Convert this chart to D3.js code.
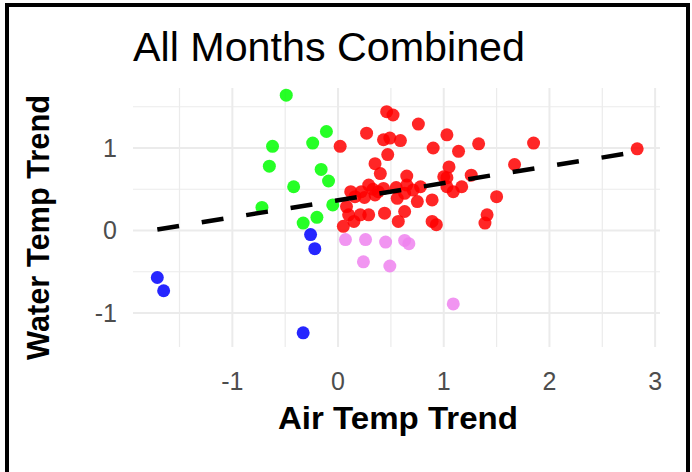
<!DOCTYPE html>
<html>
<head>
<meta charset="utf-8">
<script src="https://cdn.jsdelivr.net/npm/d3@7"></script>
<style>
  body { margin: 0; background: #fff; }
  text { font-family: "Liberation Sans", Arial, sans-serif; }
</style>
</head>
<body>
<div id="chart"></div>
<script>
// values: [air trend, water trend]
const redPoints = [
  [0.46, 1.44], [0.52, 1.40], [0.76, 1.29], [1.03, 1.16], [0.27, 1.18], [0.02, 1.02],
  [0.43, 1.10], [0.49, 1.12], [0.59, 1.09], [0.47, 0.92], [0.90, 1.00], [1.14, 0.96],
  [1.33, 1.05], [1.85, 1.06], [0.35, 0.81], [0.40, 0.69], [0.65, 0.66], [1.05, 0.77],
  [1.03, 0.64], [1.26, 0.67], [1.67, 0.80], [2.83, 0.99], [0.29, 0.55], [0.43, 0.51],
  [0.65, 0.55], [0.78, 0.53], [0.22, 0.47], [0.16, 0.41], [0.35, 0.43], [0.56, 0.39],
  [0.63, 0.45], [0.71, 0.49], [0.08, 0.29], [0.10, 0.19], [0.15, 0.11], [0.05, 0.05],
  [0.29, 0.19], [0.44, 0.21], [0.63, 0.23], [0.57, 0.11], [0.89, 0.37], [0.89, 0.11],
  [1.09, 0.47], [1.17, 0.53], [1.50, 0.41], [1.41, 0.19], [1.39, 0.09], [0.93, 0.07],
  [1.00, 0.65], [0.33, 0.50], [0.21, 0.19], [0.12, 0.47], [1.03, 0.53], [0.75, 0.35],
  [0.38, 0.47], [0.55, 0.52], [0.25, 0.40]
];
const greenPoints = [
  [-0.49, 1.64], [-0.62, 1.02], [-0.65, 0.78], [-0.42, 0.53], [-0.72, 0.28], [-0.11, 1.20],
  [-0.24, 1.06], [-0.16, 0.74], [-0.09, 0.60], [-0.05, 0.31], [-0.33, 0.09], [-0.20, 0.16]
];
const bluePoints = [
  [-1.71, -0.57], [-1.65, -0.73], [-0.26, -0.05], [-0.22, -0.22], [-0.33, -1.24]
];
const violetPoints = [
  [0.07, -0.11], [0.26, -0.11], [0.45, -0.14], [0.63, -0.12], [0.67, -0.16],
  [0.24, -0.38], [0.49, -0.43], [1.09, -0.89]
];
const groupColors = ["#ff0000", "#00ff00", "#0000ff", "#ee82ee"];
const xTicks = [-1, 0, 1, 2, 3];
const yTicks = [-1, 0, 1];
const xMinor = [-1.5, -0.5, 0.5, 1.5, 2.5];
const yMinor = [-0.5, 0.5, 1.5];

const width = 692, height = 472;
const svg = d3.select("#chart").append("svg")
    .attr("width", width).attr("height", height);

const x = d3.scaleLinear().domain([-1.94, 3.046]).range([133, 660]);
const y = d3.scaleLinear().domain([-1.412, 1.727]).range([347, 88]);

// grid (theme_minimal style)
const grid = svg.append("g");
grid.selectAll(".vminor").data(xMinor).join("line")
    .attr("x1", d => x(d)).attr("x2", d => x(d)).attr("y1", 88).attr("y2", 347)
    .attr("stroke", "#ebebeb").attr("stroke-width", 1.2);
grid.selectAll(".hminor").data(yMinor).join("line")
    .attr("y1", d => y(d)).attr("y2", d => y(d)).attr("x1", 133).attr("x2", 660)
    .attr("stroke", "#ebebeb").attr("stroke-width", 1.2);
grid.selectAll(".vmajor").data(xTicks).join("line")
    .attr("x1", d => x(d)).attr("x2", d => x(d)).attr("y1", 88).attr("y2", 347)
    .attr("stroke", "#ebebeb").attr("stroke-width", 2);
grid.selectAll(".hmajor").data(yTicks).join("line")
    .attr("y1", d => y(d)).attr("y2", d => y(d)).attr("x1", 133).attr("x2", 660)
    .attr("stroke", "#ebebeb").attr("stroke-width", 2);

// tick labels
svg.append("g").selectAll("text").data(xTicks).join("text")
    .attr("x", d => x(d)).attr("y", 390)
    .attr("text-anchor", "middle")
    .attr("font-size", 25).attr("fill", "#4d4d4d")
    .text(d => d);
svg.append("g").selectAll("text").data(yTicks).join("text")
    .attr("x", 117).attr("y", d => y(d) + 9)
    .attr("text-anchor", "end")
    .attr("font-size", 25).attr("fill", "#4d4d4d")
    .text(d => d);

// points
const groups = [redPoints, greenPoints, bluePoints, violetPoints];
groups.forEach((pts, i) => {
    svg.append("g").selectAll("circle").data(pts).join("circle")
        .attr("cx", d => x(d[0])).attr("cy", d => y(d[1]))
        .attr("r", 6.5)
        .attr("fill", groupColors[i]).attr("fill-opacity", 0.85);
});

// linear fit over all points
const all = groups.flat();
const mx = d3.mean(all, d => d[0]), my = d3.mean(all, d => d[1]);
const slope = d3.sum(all, d => (d[0] - mx) * (d[1] - my)) / d3.sum(all, d => (d[0] - mx) ** 2);
const intercept = my - slope * mx;
const [x0, x1] = d3.extent(all, d => d[0]);
svg.append("line")
    .attr("x1", x(x0)).attr("y1", y(intercept + slope * x0))
    .attr("x2", x(x1)).attr("y2", y(intercept + slope * x1))
    .attr("stroke", "#000").attr("stroke-width", 4.5)
    .attr("stroke-dasharray", "22,23");

// titles
svg.append("text").attr("x", 133).attr("y", 61)
    .attr("font-size", 41).attr("fill", "#000")
    .attr("textLength", 392).attr("lengthAdjust", "spacingAndGlyphs")
    .text("All Months Combined");
svg.append("text").attr("x", 278).attr("y", 429)
    .attr("font-size", 32).attr("font-weight", "bold")
    .attr("textLength", 240).attr("lengthAdjust", "spacingAndGlyphs")
    .text("Air Temp Trend");
svg.append("text")
    .attr("transform", "translate(49,360) rotate(-90)")
    .attr("font-size", 31).attr("font-weight", "bold")
    .attr("textLength", 265).attr("lengthAdjust", "spacingAndGlyphs")
    .text("Water Temp Trend");

// frame
svg.append("rect").attr("x", 7).attr("y", 5).attr("width", 681).attr("height", 500)
    .attr("fill", "none").attr("stroke", "#000").attr("stroke-width", 4);
</script>
</body>
</html>
